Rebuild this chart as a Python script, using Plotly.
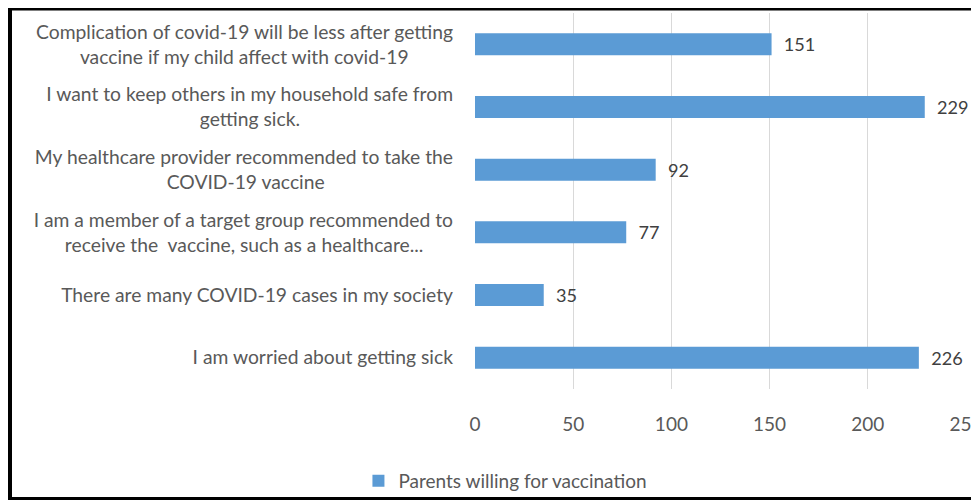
import plotly.graph_objects as go

NB = "\u00a0"

# Categories (bottom to top as drawn on the y axis)
line1 = [
    "I am worried about getting sick",
    "There are many COVID-19 cases in my society",
    "I am a member of a target group recommended to",
    "My healthcare provider recommended to take the",
    "I want to keep others in my household safe from",
    "Complication of covid-19 will be less after getting",
]
line2 = [
    "",
    "",
    "receive the  vaccine, such as a healthcare...",
    "COVID-19 vaccine",
    "getting sick.",
    "vaccine if my child affect with covid-19",
]
line2_pad = [0, 0, 6, 26, 31, 9]
values = [226, 35, 77, 92, 229, 151]
series_name = "Parents willing for vaccination"
x_ticks = [0, 50, 100, 150, 200, 250]

categories = []
for a, b, p in zip(line1, line2, line2_pad):
    if b:
        categories.append(a + "<br>" + b.replace("  ", NB + " ") + NB * p)
    else:
        categories.append(a)

FONT = "Lato"
FS = 19.3
W, H = 971, 492          # page body has an 8px margin
L, R, T, B = 467, 13, 5, 111
PW, PH = W - L - R, H - T - B


def px(fx):
    return (fx - L) / PW


def py(fy):
    return (H - B - fy) / PH


fig = go.Figure()
fig.add_trace(go.Bar(
    y=categories,
    x=values,
    orientation="h",
    name=series_name,
    marker=dict(color="#5B9BD5", line=dict(width=0)),
    text=["  " + str(v) for v in values],
    textposition="outside",
    textfont=dict(family=FONT, size=19, color="#404040"),
    cliponaxis=False,
    showlegend=True,
))

fig.update_layout(
    width=W, height=H,
    margin=dict(l=L, r=R, t=T, b=B, autoexpand=False),
    paper_bgcolor="#FFFFFF",
    plot_bgcolor="#FFFFFF",
    bargap=0.65,
    font=dict(family=FONT, size=FS, color="#595959"),
    xaxis=dict(
        range=[0, 250],
        tickvals=x_ticks,
        showgrid=True, gridcolor="#D9D9D9", gridwidth=1,
        zeroline=False, showline=False,
        ticklabelstandoff=22,
        ticklabeloverflow="allow",
        tickfont=dict(family=FONT, size=19, color="#595959"),
        automargin=False,
        fixedrange=True,
    ),
    yaxis=dict(
        showgrid=False, zeroline=False, showline=False,
        ticklabelstandoff=21,
        tickfont=dict(family=FONT, size=FS, color="#595959"),
        automargin=False,
        fixedrange=True,
    ),
    legend=dict(
        orientation="h",
        x=0.062, xanchor="center",
        y=py(473), yanchor="middle",
        font=dict(family=FONT, size=19, color="#595959"),
        bgcolor="rgba(0,0,0,0)",
    ),
    shapes=[
        dict(type="line", xref="paper", yref="paper",
             x0=px(0), x1=1.1, y0=py(1), y1=py(1),
             line=dict(color="black", width=3)),
        dict(type="line", xref="paper", yref="paper",
             x0=px(2), x1=px(2), y0=py(0), y1=py(492),
             line=dict(color="black", width=4)),
        dict(type="line", xref="paper", yref="paper",
             x0=px(0), x1=1.1, y0=py(490.5), y1=py(490.5),
             line=dict(color="black", width=3)),
    ],
)

fig.write_html("out.html")
